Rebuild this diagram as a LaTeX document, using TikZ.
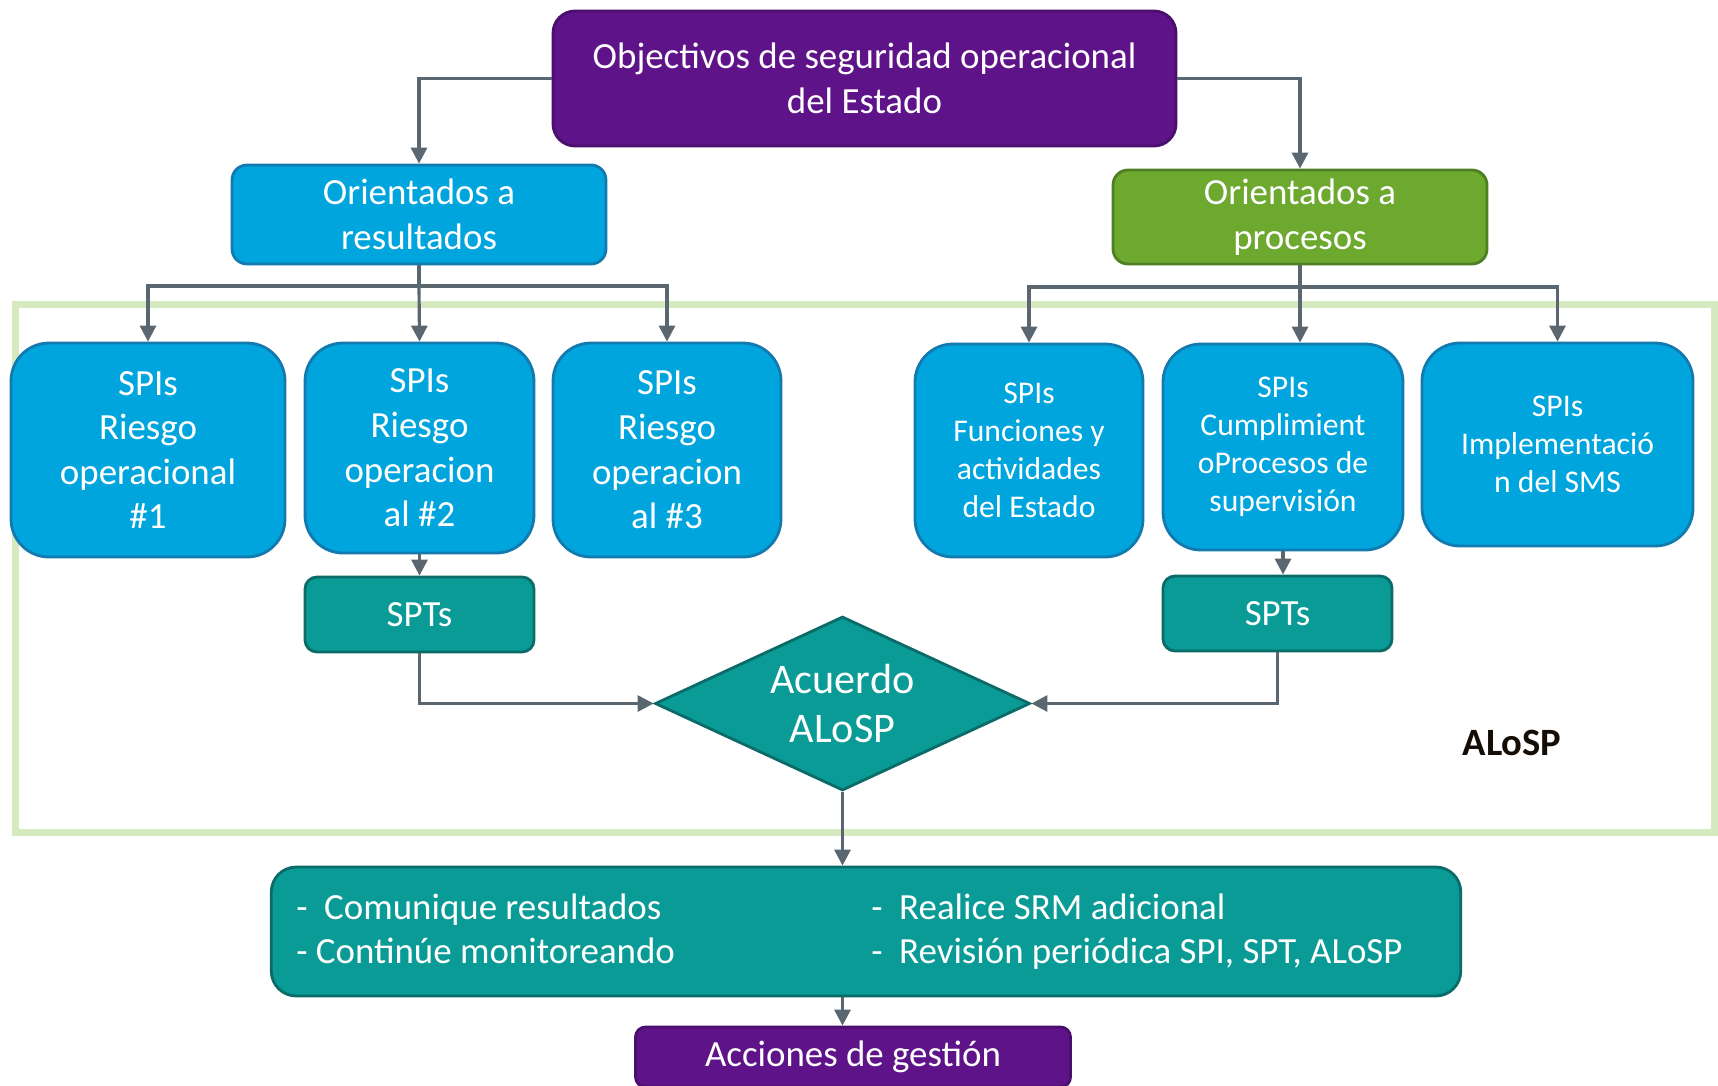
\documentclass[tikz,border=0pt]{standalone}
\usepackage{fontspec}
\setmainfont{Carlito}
\usetikzlibrary{shapes.geometric,arrows.meta}

\definecolor{objpurple}{HTML}{5F1389}
\definecolor{objline}{HTML}{4A0E6C}
\definecolor{spiblue}{HTML}{00A5DE}
\definecolor{spiline}{HTML}{127AAE}
\definecolor{progreen}{HTML}{6DA82F}
\definecolor{proline}{HTML}{4E7F22}
\definecolor{sptteal}{HTML}{0A9B96}
\definecolor{sptline}{HTML}{0B6B68}
\definecolor{arrgray}{HTML}{5B6770}
\definecolor{framegreen}{HTML}{D5EABF}

\newcommand{\leftcol}[1]{\makebox[5.75cm][l]{#1}}
\newcommand{\rightcol}[1]{\makebox[5.645cm][l]{#1}}

\begin{document}
\begin{tikzpicture}[
	box/.style={draw, line width=0.8pt, text=white, align=center, inner sep=0pt, font=\fontsize{10.5}{12.7}\selectfont},
	objbox/.style={box, fill=objpurple, draw=objline},
	spibox/.style={box, fill=spiblue, draw=spiline},
	probox/.style={box, fill=progreen, draw=proline},
	sptbox/.style={box, fill=sptteal, draw=sptline},
	small/.style={font=\fontsize{9}{10.8}\selectfont},
	arr/.style={->, line width=0.9pt, draw=arrgray, >={Triangle[length=1.6mm,width=1.6mm]}}]
		\useasboundingbox (0,0) rectangle (17.18,-10.85);
		% ALoSP frame:
		\draw[framegreen, line width=2pt] (0.155,-3.045) rectangle (17.14,-8.32);
		\node[font=\fontsize{11}{13}\selectfont\bfseries, text=black!90!brown] (alosp) at (15.12,-7.43) {ALoSP};
		% top level:
		\node[objbox, rounded corners=0.22cm, minimum width=6.23cm, minimum height=1.35cm] (obj) at (8.645,-0.785) {Objectivos de seguridad operacional\\del Estado};
		\node[spibox, rounded corners=0.15cm, minimum width=3.74cm, minimum height=0.99cm] (res) at (4.19,-2.145) {Orientados a\\resultados};
		\node[probox, rounded corners=0.15cm, minimum width=3.74cm, minimum height=0.94cm] (pro) at (13.00,-2.17) {Orientados a\\procesos};
		% SPIs:
		\node[spibox, rounded corners=0.38cm, minimum width=2.74cm, minimum height=2.14cm] (spi1) at (1.48,-4.50) {SPIs\\Riesgo\\operacional\\\#1};
		\node[spibox, rounded corners=0.38cm, minimum width=2.29cm, minimum height=2.10cm] (spi2) at (4.195,-4.48) {SPIs\\Riesgo\\operacion\\al \#2};
		\node[spibox, rounded corners=0.38cm, minimum width=2.28cm, minimum height=2.14cm] (spi3) at (6.67,-4.50) {SPIs\\Riesgo\\operacion\\al \#3};
		\node[spibox, small, rounded corners=0.38cm, minimum width=2.28cm, minimum height=2.13cm] (spi4) at (10.29,-4.505) {SPIs\\Funciones y\\actividades\\del Estado};
		\node[spibox, small, rounded corners=0.38cm, minimum width=2.40cm, minimum height=2.06cm] (spi5) at (12.83,-4.47) {SPIs\\Cumplimient\\oProcesos de\\supervisión};
		\node[spibox, small, rounded corners=0.38cm, minimum width=2.71cm, minimum height=2.03cm] (spi6) at (15.575,-4.445) {SPIs\\Implementació\\n del SMS};
		% SPTs and agreement:
		\node[sptbox, rounded corners=0.12cm, minimum width=2.29cm, minimum height=0.75cm] (spt1) at (4.195,-6.145) {SPTs};
		\node[sptbox, rounded corners=0.12cm, minimum width=2.29cm, minimum height=0.75cm] (spt2) at (12.775,-6.135) {SPTs};
		\node[sptbox, diamond, aspect=2.155, minimum width=3.75cm, minimum height=1.74cm, font=\fontsize{12}{14.2}\selectfont] (acu) at (8.425,-7.035) {Acuerdo\\ALoSP};
		\node[sptbox, rounded corners=0.25cm, minimum width=11.895cm, minimum height=1.29cm, align=left] (act) at (8.66,-9.315)
			{\leftcol{-\ \ Comunique resultados}\rightcol{-\ \ Realice SRM adicional}\\
			 \leftcol{- Continúe monitoreando}\rightcol{-\ \ Revisión periódica SPI, SPT, ALoSP}};
		\node[objbox, rounded corners=0.1cm, minimum width=4.35cm, minimum height=0.6cm] (ges) at (8.53,-10.57) {Acciones de gestión};
		% arrows from the objectives:
		\draw[arr] (obj.west) -| (res.north);
		\draw[arr] (obj.east) -| (pro.north);
		\coordinate (resj) at (4.19,-2.86);
		\draw[arrgray, line width=0.9pt] (res.south) -- (resj);
		\draw[arr] (resj) -| (spi1.north);
		\draw[arr] (resj) -- (spi2.north);
		\draw[arr] (resj) -| (spi3.north);
		\coordinate (proj) at (13.00,-2.87);
		\draw[arrgray, line width=0.9pt] (pro.south) -- (proj);
		\draw[arr] (proj) -| (spi4.north);
		\draw[arr] (proj) -- (proj |- spi5.north);
		\draw[arr] (proj) -| (spi6.north);
		% targets to agreement:
		\draw[arr] (spi2.south) -- (spt1.north);
		\draw[arr] (spi5.south) -- (spi5.south |- spt2.north);
		\draw[arr] (spt1.south) |- (acu.west);
		\draw[arr] (spt2.south) |- (acu.east);
		\draw[arr] (acu.south) -- (acu.south |- act.north);
		\draw[arr] (act.south -| acu.south) -- (acu.south |- ges.north);
\end{tikzpicture}
\end{document}
